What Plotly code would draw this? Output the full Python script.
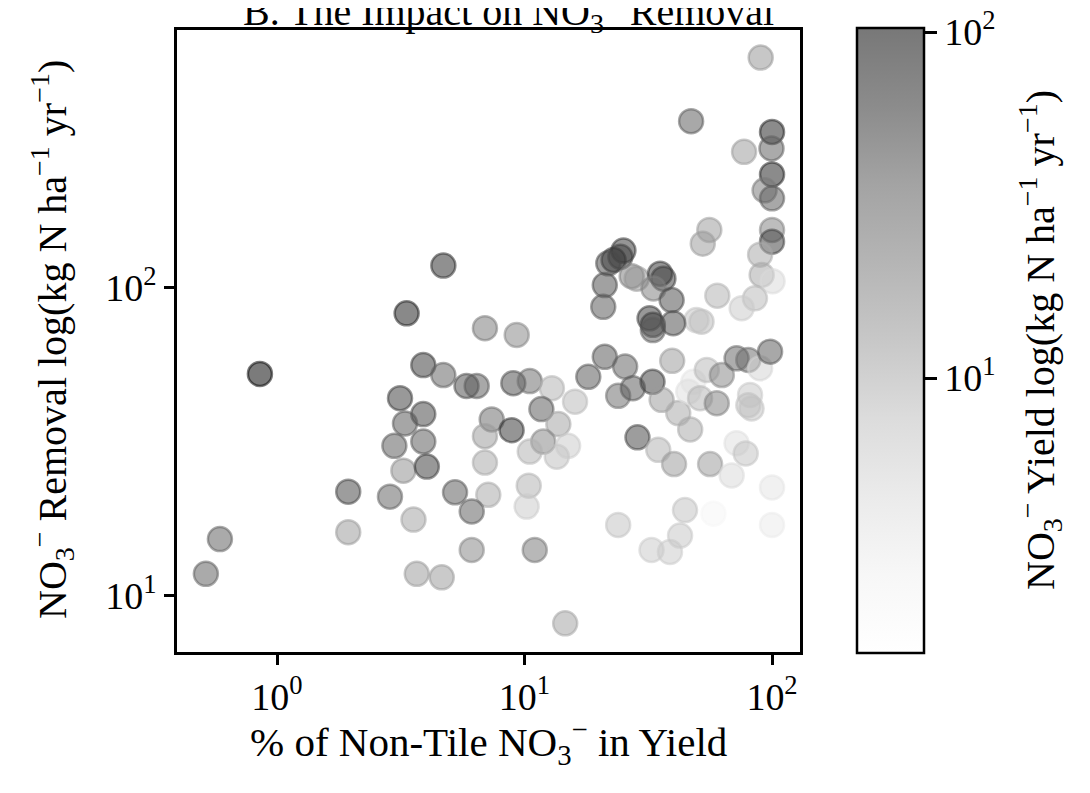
import numpy as np
import plotly.graph_objects as go

# % of non-tile NO3- in yield
pct_nontile = [
    4.70, 3.34, 6.92, 0.853, 3.90, 4.70, 5.83, 6.41, 3.14, 3.90,
    3.29, 7.37, 6.92, 2.98, 3.90, 3.24, 4.03, 6.92, 1.94, 2.86,
    5.24, 7.14, 6.12, 3.56, 1.94, 0.588, 6.12, 0.516, 3.67, 4.63,
    9.30, 9.01, 10.5, 12.9, 16.0, 8.87, 11.7, 13.7, 11.9, 10.5,
    13.5, 15.0, 10.4, 10.2, 11.0, 14.6, 21.1, 18.1, 25.5, 23.9,
    27.4, 32.9, 35.8, 39.5, 41.8, 46.7, 28.6, 34.7, 40.2, 23.9,
    32.6, 38.7, 42.5, 44.5, 58.0, 56.2, 68.7, 71.9, 78.3, 100.0,
    100.0, 48.1, 45.9, 51.2, 54.5, 59.8, 62.7, 71.9, 80.2, 89.5,
    98.2, 81.5, 80.2, 82.7, 90.0, 47.1, 100.0, 99.5, 77.1, 100.0,
    93.3, 100.0, 55.8, 52.5, 100.0, 100.0, 89.5, 90.8, 100.5, 85.3,
    75.4, 60.1, 51.9, 49.5, 25.1, 22.9, 24.4, 21.8, 21.1, 20.8,
    27.1, 28.4, 35.3, 36.4, 33.2, 39.3, 32.0, 33.0, 33.0, 39.9,
]

# NO3- removal (kg N ha-1 yr-1)
removal = [
    118, 82.6, 73.9, 52.5, 56.1, 52.1, 48.0, 48.0, 43.8, 38.9,
    36.3, 37.4, 33.0, 30.7, 31.7, 25.5, 26.3, 27.1, 21.8, 21.0,
    21.7, 21.3, 18.8, 17.7, 16.1, 15.3, 14.1, 11.8, 11.8, 11.5,
    70.3, 49.0, 49.8, 47.2, 42.7, 34.5, 40.4, 36.1, 31.7, 29.4,
    28.3, 30.7, 22.8, 19.5, 14.1, 8.15, 59.7, 51.4, 55.5, 44.6,
    47.2, 49.5, 43.3, 57.9, 39.2, 34.7, 32.7, 29.8, 26.8, 17.0,
    14.1, 13.9, 15.7, 19.0, 18.5, 26.8, 24.6, 31.3, 29.0, 22.5,
    17.0, 49.5, 46.0, 43.8, 54.1, 42.2, 52.1, 59.0, 58.3, 54.8,
    62.0, 44.9, 41.6, 40.6, 558, 347, 320, 283, 276, 233,
    207, 195, 154, 139, 154, 141, 128, 110, 105, 92.4,
    85.8, 94.2, 77.6, 78.5, 132, 123, 126, 120, 102, 86.7,
    109, 107, 111, 107, 99.5, 91.2, 79.6, 75.8, 72.9, 76.7,
]

# NO3- yield (kg N ha-1 yr-1), colour variable
yield_no3 = [
    55, 65, 20, 95, 48, 28, 38, 32, 45, 42,
    34, 24, 12, 32, 32, 14, 47, 10, 42, 28,
    32, 10, 30, 11, 12, 30, 16, 30, 12, 12,
    16, 38, 24, 9, 8, 50, 32, 11, 16, 9,
    7.5, 6, 9, 6, 20, 11, 34, 34, 28, 24,
    32, 44, 12, 12, 10, 10, 42, 9, 12, 7,
    6, 6, 6.5, 7, 2.3, 12, 4.5, 4, 7, 3.5,
    3, 3.5, 4, 8.5, 8, 17, 16, 27, 24, 5,
    32, 6.5, 7.5, 7, 13, 32, 62, 30, 12, 62,
    20, 32, 12, 12, 17, 44, 10, 10, 4.5, 8,
    6, 9, 8, 7, 50, 55, 45, 40, 38, 34,
    18, 13, 50, 47, 18, 38, 47, 47, 32, 38,
]

cb_ticks = [1, 2]
cb_ticktext = ["10<sup>1</sup>", "10<sup>2</sup>"]
x_ticks = [1, 10, 100]
x_ticktext = ["10<sup>0</sup>", "10<sup>1</sup>", "10<sup>2</sup>"]
y_ticks = [10, 100]
y_ticktext = ["10<sup>1</sup>", "10<sup>2</sup>"]

ALPHA = 0.53
greys = [255, 240, 217, 189, 150, 115, 82, 37, 0]
colorscale = [[i / (len(greys) - 1), f"rgba({g},{g},{g},{ALPHA})"] for i, g in enumerate(greys)]

cval = np.log10(np.array(yield_no3, dtype=float))
CMIN, CMAX = 0.205, 2.012

FONT = "Liberation Serif, Times New Roman, serif"
TICK_SIZE = 38
LABEL_SIZE = 40

fig = go.Figure()
fig.add_trace(go.Scatter(
    x=pct_nontile, y=removal, mode="markers",
    marker=dict(
        size=24,
        color=cval, colorscale=colorscale, cmin=CMIN, cmax=CMAX,
        line=dict(width=2.5, color=cval, colorscale=colorscale, cmin=CMIN, cmax=CMAX),
        showscale=True,
        colorbar=dict(
            x=(857 - 177) / 623, xanchor="left", xpad=0, ypad=0,
            y=(652 - 340.5) / 622, yanchor="middle",
            len=625, lenmode="pixels",
            thickness=67, thicknessmode="pixels",
            outlinewidth=2.5, outlinecolor="black",
            tickvals=cb_ticks, ticktext=cb_ticktext,
            ticklabeloverflow="allow",
            ticks="outside", ticklen=12, tickwidth=2.5, tickcolor="black",
            tickfont=dict(family=FONT, size=TICK_SIZE, color="black"),
        ),
    ),
    hoverinfo="skip", showlegend=False,
))

axis_common = dict(
    type="log", showgrid=False, zeroline=False,
    showline=True, linewidth=2.5, linecolor="black", mirror=True,
    ticks="outside", ticklen=10, tickwidth=2.5, tickcolor="black",
    ticklabeloverflow="allow",
    tickfont=dict(family=FONT, size=TICK_SIZE, color="black"),
)

# the page body has an 8px margin, so the figure is drawn 8px smaller and offset
fig.update_layout(
    width=1082, height=785,
    margin=dict(l=169, r=290, t=22, b=141),
    paper_bgcolor="white", plot_bgcolor="white",
    xaxis=dict(range=[-0.404, 2.113], tickvals=x_ticks, ticktext=x_ticktext, **axis_common),
    yaxis=dict(range=[0.8183, 2.836], tickvals=y_ticks, ticktext=y_ticktext, **axis_common),
    annotations=[
        dict(text="B. The Impact on NO<sub>3</sub><sup>−</sup> Removal",
             x=(508 - 177) / 623, xref="paper", y=(652 - 11) / 622, yref="paper",
             xanchor="center", yanchor="middle", showarrow=False,
             font=dict(family=FONT, size=40, color="black")),
        dict(text="% of Non-Tile NO<sub>3</sub><sup>−</sup> in Yield",
             x=0.5, xref="paper", y=(652 - 742) / 622, yref="paper",
             xanchor="center", yanchor="middle", showarrow=False,
             font=dict(family=FONT, size=41, color="black")),
        dict(text="NO<sub>3</sub><sup>−</sup> Removal log(kg N ha<sup>−1</sup> yr<sup>−1</sup>)",
             x=(52 - 177) / 623, xref="paper", y=(652 - 340) / 622, yref="paper",
             xanchor="center", yanchor="middle", textangle=-90, showarrow=False,
             font=dict(family=FONT, size=LABEL_SIZE, color="black")),
        dict(text="NO<sub>3</sub><sup>−</sup> Yield log(kg N ha<sup>−1</sup> yr<sup>−1</sup>)",
             x=(1040 - 177) / 623, xref="paper", y=(652 - 340) / 622, yref="paper",
             xanchor="center", yanchor="middle", textangle=-90, showarrow=False,
             font=dict(family=FONT, size=LABEL_SIZE, color="black")),
    ],
)

fig.write_html("out.html")
